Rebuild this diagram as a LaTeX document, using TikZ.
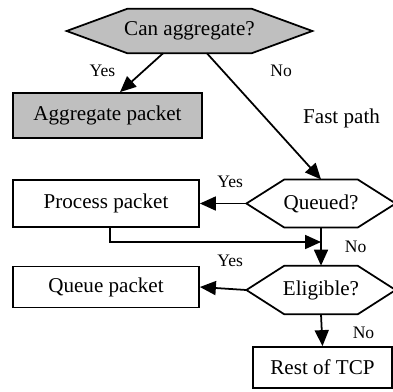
\documentclass[tikz,border=0pt]{standalone}
\usepackage{fontspec}
\setmainfont{Liberation Serif}
\usetikzlibrary{positioning,arrows.meta,backgrounds}

% hexagon outline round a (rectangular) node: #1 = node, #2 = length of the point
\newcommand{\hexpath}[2]{(#1.west) -- ([xshift=#2]#1.north west)
  -- ([xshift=-#2]#1.north east) -- (#1.east)
  -- ([xshift=-#2]#1.south east) -- ([xshift=#2]#1.south west) -- cycle}

\begin{document}
\begin{tikzpicture}[
  bx/.style={draw, rectangle, line width=1pt, inner sep=0pt,
             align=center, font=\fontsize{12}{14}\selectfont},
  dbox/.style={bx, fill=black!25},
  hexa/.style={rectangle, inner sep=0pt, font=\fontsize{12}{14}\selectfont},
  hexline/.style={draw, line width=1pt, line join=miter},
  arr/.style={-{Triangle[length=0.32cm,width=0.28cm]}, line width=1pt},
  lbl/.style={font=\fontsize{10}{12}\selectfont, inner sep=0pt},
  lblb/.style={font=\fontsize{12}{14}\selectfont, inner sep=0pt}
]
\useasboundingbox (0,0) rectangle (7.86,-7.82);

%% ── nodes ───────────────────────────────────────────────────────────────
\node[hexa, minimum width=4.9cm, minimum height=0.88cm]  (agg)    at (3.79,-0.62) {Can aggregate?};
\node[dbox, minimum width=3.78cm, minimum height=0.9cm]  (aggpkt) at (2.15,-2.31) {Aggregate packet};

%% fast path (right column)
\node[hexa, minimum width=2.97cm, minimum height=0.95cm] (queued) at (6.42,-4.07) {Queued?};
\node[hexa, minimum width=2.97cm, minimum height=0.96cm] (elig)   at (6.42,-5.80) {Eligible?};
\node[bx, minimum width=2.78cm, minimum height=0.82cm]   (rest)   at (6.45,-7.35) {Rest of TCP};

%% left column
\node[bx, minimum width=3.72cm, minimum height=0.94cm]   (proc)   at (2.12,-4.07) {Process packet};
\node[bx, minimum width=3.72cm, minimum height=0.82cm]   (qpkt)   at (2.12,-5.74) {Queue packet};

\coordinate (mrg) at (6.42,-4.84);

%% ── hexagon outlines ────────────────────────────────────────────────────
\begin{scope}[on background layer]
  \draw[hexline, fill=black!25] \hexpath{agg}{1.22cm};
  \draw[hexline] \hexpath{queued}{0.76cm};
  \draw[hexline] \hexpath{elig}{0.76cm};
\end{scope}

%% ── edges ───────────────────────────────────────────────────────────────
\draw[arr] ([xshift=-0.53cm]agg.south) -- ([xshift=0.25cm]aggpkt.north)
           node[lbl,left=0.55cm,pos=0.45]{Yes};
\draw[arr] ([xshift=0.35cm]agg.south) -- (queued.north)
           node[lbl,right=0.93cm,pos=0.14]{No}
           node[lblb,right=0.72cm,pos=0.52]{Fast path};

% Queued?
\draw[arr] (queued.west) -- node[lbl,above=0.3cm,pos=0.35]{Yes} (proc.east);
\draw[arr] (queued.south) -- node[lbl,right=0.46cm,pos=0.5]{No} (elig.north);
\draw[arr] ([xshift=0.08cm]proc.south) |- (mrg);

% Eligible?
\draw[arr] (elig.west) -- node[lbl,above=0.42cm,pos=0.35]{Yes} (qpkt.east);
\draw[arr] (elig.south) -- node[lbl,right=0.6cm,pos=0.58]{No} (rest.north);

\end{tikzpicture}
\end{document}
